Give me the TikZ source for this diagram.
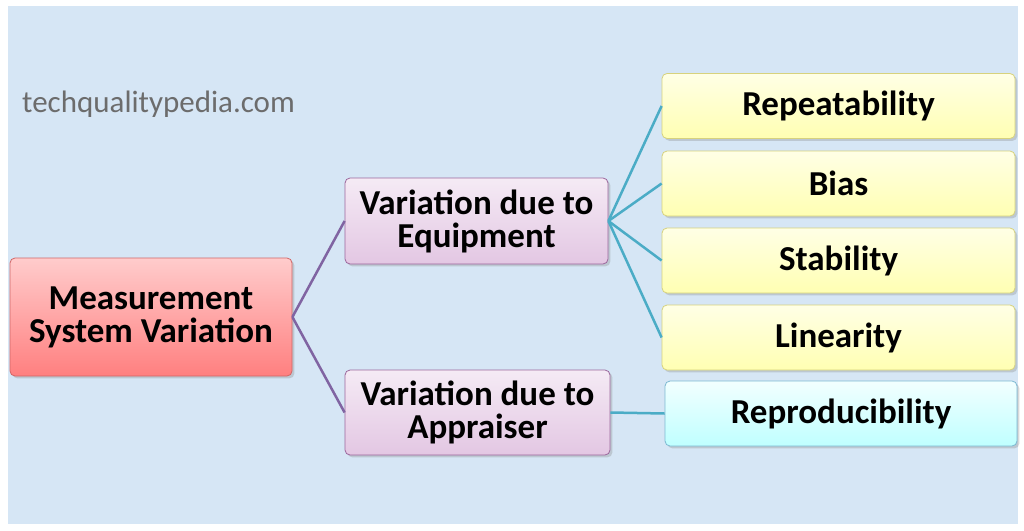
\documentclass[tikz,border=0pt]{standalone}
\usepackage{fontspec}
\setmainfont{Carlito}
\usetikzlibrary{shadows}
\definecolor{bg}{RGB}{214,230,245}
\definecolor{lpc}{RGB}{128,100,162}
\definecolor{ltc}{RGB}{75,172,198}
\begin{document}
\begin{tikzpicture}[x=1pt,y=-1pt,
 box/.style={draw=#1!70!black!60, line width=0.8pt, rounded corners=5pt, align=center, inner sep=0pt, font=\fontsize{35}{33}\selectfont\bfseries, drop shadow={opacity=0.3}},
 lp/.style={draw=lpc, line width=2.5pt},
 lt/.style={draw=ltc, line width=2.5pt}]
\useasboundingbox (0,0) rectangle (1024,530);
\fill[white] (0,0) rectangle (1024,530);
\fill[bg] (8,6) rectangle (1018,524);
\node[anchor=west, inner sep=0pt, text=gray!85!black, font=\fontsize{31}{31}\selectfont] (w) at (22,104) {techqualitypedia.com};
\node[box=red, minimum width=282, minimum height=118, top color=red!20!white, bottom color=red!50!white] (m) at (151,317) {Measurement\\System Variation};
\node[box=violet, minimum width=263, minimum height=86, top color=violet!8!white, bottom color=violet!22!white] (e) at (476.5,221) {Variation due to\\Equipment};
\node[box=violet, minimum width=265, minimum height=85, top color=violet!8!white, bottom color=violet!22!white] (a) at (477.5,412.5) {Variation due to\\Appraiser};
\foreach \n/\t/\y in {r/Repeatability/106, b/Bias/183.5, s/Stability/260.5, l/Linearity/337.5}
 \node[box=yellow, minimum width=353, minimum height=65, top color=yellow!10!white, bottom color=yellow!30!white] (\n) at (838.5,\y) {\t};
\node[box=cyan, minimum width=352, minimum height=65, top color=cyan!5!white, bottom color=cyan!25!white] (p) at (841,413.5) {Reproducibility};
\draw[lp] (m.east) -- (e.west);
\draw[lp] (m.east) -- (a.west);
\foreach \n in {r,b,s,l} \draw[lt] (e.east) -- (\n.west);
\draw[lt] (a.east) -- (p.west);
\end{tikzpicture}
\end{document}
